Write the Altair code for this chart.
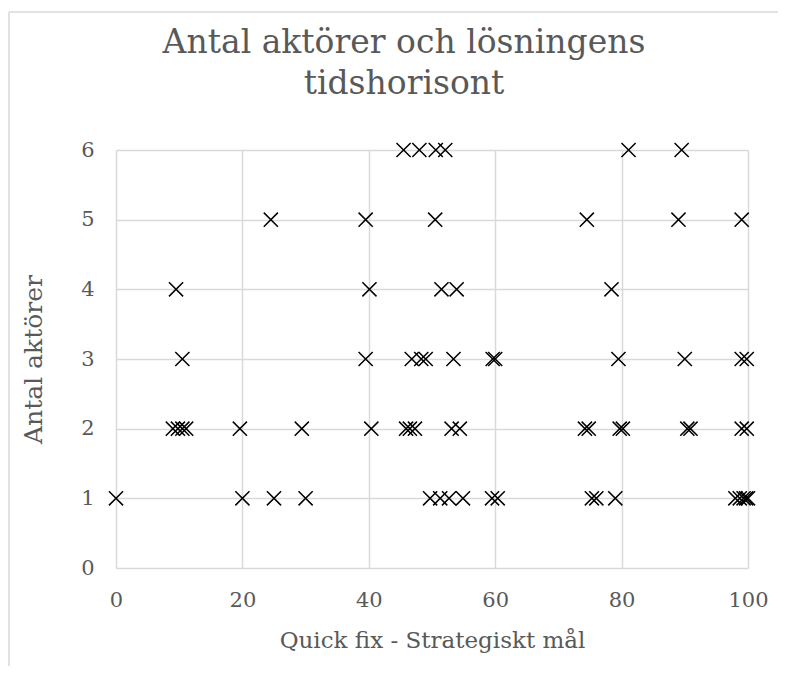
import altair as alt
import pandas as pd

# Values (x = Quick fix - Strategiskt mål, y = Antal aktörer)
x_row1 = [0, 20, 25, 30, 49.7, 51.3, 52.7, 54.9, 59.5, 60.4, 75.3, 76, 79, 98, 98.7, 99.3, 99.7, 100]
x_row2 = [9, 9.8, 10.5, 11.1, 19.6, 29.4, 40.4, 45.9, 46.5, 47.3, 53.1, 54.4, 74.2, 74.8, 79.7, 80.2, 90.4, 90.9, 99, 99.8]
x_row3 = [10.5, 39.5, 46.8, 48.3, 49, 53.4, 59.6, 60, 79.5, 90, 99, 99.8]
x_row4 = [9.5, 40.1, 51.5, 53.9, 78.4]
x_row5 = [24.5, 39.5, 50.5, 74.5, 89, 99]
x_row6 = [45.5, 48, 50.6, 52.1, 81.1, 89.5]

title_text = "Antal aktörer och lösningens\ntidshorisont"

rows = {1: x_row1, 2: x_row2, 3: x_row3, 4: x_row4, 5: x_row5, 6: x_row6}
df = pd.DataFrame([{"x": xv, "y": yv} for yv, xs in rows.items() for xv in xs])
one = pd.DataFrame({"t": [title_text]})

FONT = "DejaVu Serif"
TXT = "#595959"
GRID = "#d9d9d9"

points = alt.Chart(df).mark_point(
    shape="M-1,-1L1,1M1,-1L-1,1",
    filled=False,
    color="black",
    strokeWidth=1.5,
    size=200,
    opacity=1,
).encode(
    x=alt.X("x:Q", title="Quick fix - Strategiskt mål",
            scale=alt.Scale(domain=[0, 100], nice=False),
            axis=alt.Axis(values=[0, 20, 40, 60, 80, 100], labelPadding=21,
                          labelFlush=False, titlePadding=19, titleFontSize=23)),
    y=alt.Y("y:Q", title="Antal aktörer",
            scale=alt.Scale(domain=[0, 6], nice=False),
            axis=alt.Axis(values=[0, 1, 2, 3, 4, 5, 6], labelPadding=22,
                          titlePadding=34, titleFontSize=25)),
)

# outer chart-area border (decorative frame)
frame_top = alt.Chart(one).mark_rule(color=GRID, strokeWidth=1.5).encode(
    x=alt.value(-107), x2=alt.value(690), y=alt.value(-138))
frame_left = alt.Chart(one).mark_rule(color=GRID, strokeWidth=1.5).encode(
    x=alt.value(-107), y=alt.value(-138), y2=alt.value(530))

title = alt.Chart(one).mark_text(
    lineBreak="\n", font=FONT, fontSize=33, color=TXT,
    align="center", baseline="alphabetic", lineHeight=41,
).encode(text="t:N", x=alt.value(288), y=alt.value(-97))

chart = alt.layer(frame_top, frame_left, title, points).properties(
    width=632,
    height=418,
    padding={"left": 108, "top": 142, "right": 30, "bottom": 98},
    autosize=alt.AutoSizeParams(type="none"),
).configure_axis(
    labelFont=FONT, titleFont=FONT, labelFontSize=21,
    labelColor=TXT, titleColor=TXT, titleFontWeight="normal",
    grid=True, gridColor=GRID, gridWidth=1.5,
    domain=False, ticks=False,
).configure_view(stroke=None)

chart.save("out.html", embed_options={"renderer": "svg", "actions": False})
